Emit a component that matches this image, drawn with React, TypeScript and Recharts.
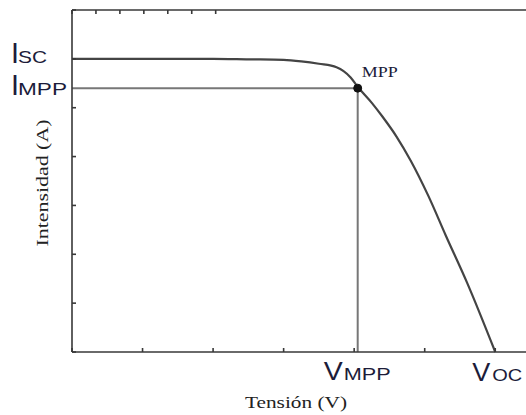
import { LineChart, Line, XAxis, YAxis, ReferenceLine, ReferenceDot } from 'recharts';

// I-V curve of a PV cell (arbitrary units)
const voltage = [0, 0.5, 1, 1.5, 2, 2.5, 3, 3.25, 3.5, 3.75, 3.95, 4.05, 4.25, 4.4, 4.6, 4.8, 5.05, 5.3, 5.6, 6];
const current = [6, 6, 6, 6, 6, 5.99, 5.98, 5.95, 5.9, 5.83, 5.62, 5.43, 5.1, 4.82, 4.41, 3.92, 3.2, 2.38, 1.42, 0];

const xTicks = [0, 1, 2, 3, 4, 5, 6];
const yTicks = [0, 1, 2, 3, 4, 5, 6, 7];

const isc = 6;
const voc = 6;
const vmpp = 4.05;
const impp = 5.4;

const data = voltage.map((v, i) => ({ v, i: current[i] }));

const ink = '#1c1c3a';
const sans = '"Liberation Sans", Arial, sans-serif';
const serif = '"Liberation Serif", "Times New Roman", serif';

// big letter + small caps subscript, e.g. I + SC
function capLabel(big: string, small: string, dx: number, dy: number, bigW: number, smallDx: number, smallW: number, bigSize: number) {
  return (props: any) => {
    const { x, y } = props.viewBox;
    return (
      <g fill={ink} fontFamily={sans}>
        <text x={x + dx} y={y + dy} fontSize={bigSize} textLength={bigW} lengthAdjust="spacingAndGlyphs">{big}</text>
        <text x={x + dx + smallDx} y={y + dy} fontSize={17} textLength={smallW} lengthAdjust="spacingAndGlyphs">{small}</text>
      </g>
    );
  };
}

const mppLabel = (props: any) => {
  const { x, y } = props.viewBox;
  return (
    <text x={x + 8} y={y - 7} fontSize={14} fontFamily={serif} fill={ink} textLength={36} lengthAdjust="spacingAndGlyphs">MPP</text>
  );
};

const noTick = () => <g />;

export default function App() {
  const axisStroke = { stroke: '#383838', strokeWidth: 1.6 };
  const tickStroke = { stroke: '#383838', strokeWidth: 1.6 };
  return (
    <div style={{ position: 'absolute', left: 0, top: 0, width: 526, height: 415, overflow: 'hidden', background: '#fff' }}>
      <LineChart width={530} height={415} data={data} margin={{ top: 10, right: 3, bottom: 63, left: 72 }}>
        <XAxis xAxisId="b" dataKey="v" type="number" domain={[0, 6.45]} ticks={xTicks} allowDataOverflow
          orientation="bottom" mirror tick={noTick} tickSize={4} axisLine={axisStroke} tickLine={tickStroke} />
        <XAxis xAxisId="t" type="number" domain={[0, 6.45]} ticks={xTicks} allowDataOverflow
          orientation="top" mirror tick={noTick} tickSize={4} axisLine={axisStroke} tickLine={tickStroke} />
        <YAxis yAxisId="l" type="number" domain={[0, 7]} ticks={yTicks}
          orientation="left" mirror tick={noTick} tickSize={4} axisLine={axisStroke} tickLine={tickStroke} />
        <YAxis yAxisId="r" type="number" domain={[0, 7]} ticks={yTicks}
          orientation="right" mirror tick={noTick} tickSize={4} axisLine={axisStroke} tickLine={tickStroke} />

        <ReferenceLine xAxisId="b" yAxisId="l" segment={[{ x: 0, y: impp }, { x: vmpp, y: impp }]}
          stroke="#777" strokeWidth={2} ifOverflow="visible" />
        <ReferenceLine xAxisId="b" yAxisId="l" segment={[{ x: vmpp, y: 0 }, { x: vmpp, y: impp }]}
          stroke="#777" strokeWidth={2} ifOverflow="visible" />

        <Line xAxisId="b" yAxisId="l" dataKey="i" type="monotone" stroke="#444" strokeWidth={2.2}
          dot={false} activeDot={false} isAnimationActive={false} />

        <ReferenceDot xAxisId="b" yAxisId="l" x={vmpp} y={impp} r={4} fill="#111" stroke="#111"
          ifOverflow="visible" label={mppLabel} />

        <ReferenceDot xAxisId="b" yAxisId="l" x={0} y={isc} r={0} stroke="none" ifOverflow="visible"
          label={capLabel('I', 'SC', -61, 4, 8, 7, 29, 30)} />
        <ReferenceDot xAxisId="b" yAxisId="l" x={0} y={impp} r={0} stroke="none" ifOverflow="visible"
          label={capLabel('I', 'MPP', -61, 7, 8, 7, 49, 30)} />
        <ReferenceDot xAxisId="b" yAxisId="l" x={vmpp} y={0} r={0} stroke="none" ifOverflow="visible"
          label={capLabel('V', 'MPP', -34, 28, 19, 20, 47, 25)} />
        <ReferenceDot xAxisId="b" yAxisId="l" x={voc} y={0} r={0} stroke="none" ifOverflow="visible"
          label={capLabel('V', 'OC', -23, 29, 18, 20, 30, 25)} />
      </LineChart>

      <svg width={526} height={415} style={{ position: 'absolute', left: 0, top: 0, pointerEvents: 'none' }}>
        <text x={296} y={408} textAnchor="middle" fontSize={16} fontFamily={serif} fill="#222"
          textLength={102} lengthAdjust="spacingAndGlyphs">Tensión (V)</text>
        <text x={48} y={183} textAnchor="middle" fontSize={16} fontFamily={serif} fill="#222"
          transform="rotate(-90 48 183)" textLength={127} lengthAdjust="spacingAndGlyphs">Intensidad  (A)</text>
      </svg>
    </div>
  );
}
